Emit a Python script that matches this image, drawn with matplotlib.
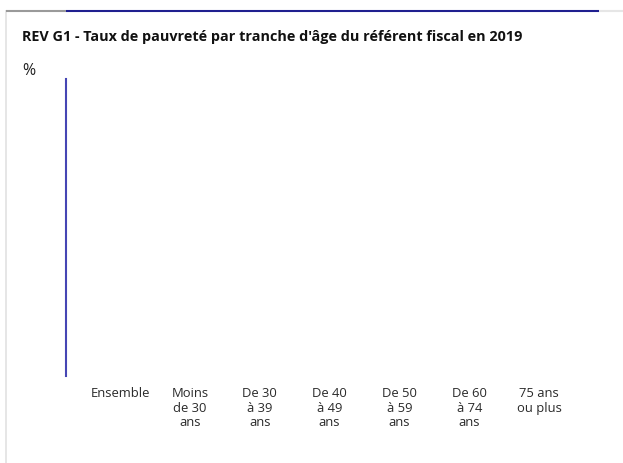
import numpy as np
import matplotlib
matplotlib.use("Agg")
import matplotlib.pyplot as plt
from matplotlib.lines import Line2D

plt.rcParams['font.family'] = ['Open Sans', 'DejaVu Sans']

categories = ["Ensemble", "Moins\nde 30\nans", "De 30\nà 39\nans", "De 40\nà 49\nans",
              "De 50\nà 59\nans", "De 60\nà 74\nans", "75 ans\nou plus"]
values = [np.nan] * len(categories)  # no bars visible in the reference

W, H = 623, 464
fig = plt.figure(figsize=(W / 100, H / 100), dpi=100)

def px(x0, y0, x1, y1):
    return [x0 / W, 1 - y1 / H, (x1 - x0) / W, (y1 - y0) / H]

ax = fig.add_axes(px(66, 80, 590, 377))
x = np.arange(len(categories))
ax.bar(x, values, color="#3F3FA8", width=0.6)
ax.set_xlim(-0.774, 6.73)
ax.set_ylim(0, 1)
ax.set_xticks(x)
ax.set_xticklabels(categories, fontsize=9.4, color="#2A2A2A", linespacing=1.13)
ax.tick_params(axis='x', length=0, pad=7.5)
ax.set_yticks([])
for s in ['top', 'right', 'bottom']:
    ax.spines[s].set_visible(False)
ax.spines['left'].set_color('#4646B4')
ax.spines['left'].set_linewidth(1.5)
ax.patch.set_alpha(0)

# card borders
def fline(xs, ys, color, lw):
    fig.add_artist(Line2D([v / W for v in xs], [1 - v / H for v in ys], color=color, lw=lw,
                          transform=fig.transFigure, solid_capstyle='butt'))

fline([6, 6], [11, H], "#E2E2E2", 1.2)
fline([6, 66], [11.5, 11.5], "#9A9A9A", 1.5)
fline([66, 599], [11.5, 11.5], "#1F1F8F", 1.5)
fline([599, W], [11.5, 11.5], "#E6E6E6", 1.5)

fig.text(22 / W, 1 - 41 / H, "REV G1 - Taux de pauvreté par tranche d'âge du référent fiscal en 2019",
         fontsize=10.4, fontweight='bold', color="#111111", ha='left', va='baseline')
fig.text(22 / W, 1 - 75 / H, "%", fontsize=11.5, color="#222222", ha='left', va='baseline')

fig.savefig("out.png", dpi=100, facecolor="white")
